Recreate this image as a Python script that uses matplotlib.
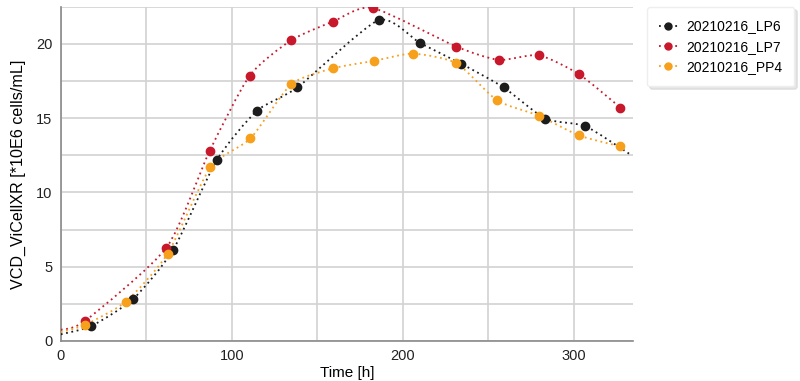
import matplotlib.pyplot as plt
import numpy as np
from matplotlib.path import Path
from matplotlib.patches import PathPatch
from matplotlib.lines import Line2D

plt.rcParams['font.family'] = ['Liberation Sans', 'DejaVu Sans']

# measured points
lp6_t = [17.9, 42.3, 65.7, 91.2, 114.6, 138.4, 185.8, 210.3, 234.3, 258.9, 283.4, 306.8]
lp6_v = [1.01, 2.83, 6.14, 12.18, 15.49, 17.08, 21.6, 20.05, 18.66, 17.08, 14.97, 14.46]
lp7_t = [14.4, 61.8, 87.1, 110.5, 134.7, 159.2, 182.3, 231.4, 256.1, 279.5, 303.1, 327.3]
lp7_v = [1.37, 6.29, 12.81, 17.87, 20.25, 21.51, 22.43, 19.82, 18.93, 19.24, 17.96, 15.71]
pp4_t = [14.0, 38.0, 62.4, 87.5, 110.9, 134.7, 159.2, 183.0, 206.0, 231.4, 255.2, 279.5, 303.1, 327.3]
pp4_v = [1.08, 2.65, 5.87, 11.69, 13.64, 17.28, 18.36, 18.86, 19.35, 18.7, 16.2, 15.17, 13.84, 13.1]

# where the dotted curves start / end outside the measured points
lp6_start, lp6_end = (0, 0.45), (332.5, 12.6)
lp7_start, lp7_end = (0, 0.75), None
pp4_start, pp4_end = (0, 0.6), None

names = ['20210216_LP6', '20210216_LP7', '20210216_PP4']
colors = ['#1c1c1c', '#c8182b', '#f7a01c']


def smooth_path(x, y, k=9.0):
    # catmull-rom style bezier through the points (loose tension)
    p = np.column_stack([x, y])
    verts = [p[0]]
    codes = [Path.MOVETO]
    n = len(p)
    for i in range(n - 1):
        p0 = p[i - 1] if i > 0 else p[i]
        p3 = p[i + 2] if i + 2 < n else p[i + 1]
        c1 = p[i] + (p[i + 1] - p0) / k
        c2 = p[i + 1] - (p3 - p[i]) / k
        verts += [c1, c2, p[i + 1]]
        codes += [Path.CURVE4] * 3
    return Path(verts, codes)


fig = plt.figure(figsize=(8, 3.81), dpi=100)
ax = fig.add_axes([0.076, 0.105, 0.715, 0.877])

series = [(lp6_t, lp6_v, lp6_start, lp6_end),
          (lp7_t, lp7_v, lp7_start, lp7_end),
          (pp4_t, pp4_v, pp4_start, pp4_end)]

handles = []
for (t, v, s, e), c, name in zip(series, colors, names):
    xs = [s[0]] + list(t)
    ys = [s[1]] + list(v)
    if e is not None:
        xs.append(e[0])
        ys.append(e[1])
    patch = PathPatch(smooth_path(xs, ys), fill=False, edgecolor=c, lw=1.3,
                      linestyle=(0, (1, 2)), zorder=3)
    ax.add_patch(patch)
    ax.plot(t, v, 'o', color=c, ms=6, zorder=4)
    handles.append(Line2D([], [], color=c, lw=1.3, linestyle=(0, (1, 2)),
                          marker='o', ms=5))

ax.set_xlim(0, 334.5)
ax.set_ylim(0, 22.5)
ax.set_xticks(np.arange(0, 334, 50))
ax.set_xticklabels(['0', '', '100', '', '200', '', '300'])
ax.set_yticks(np.arange(0, 22.6, 2.5))
ax.set_yticklabels(['0', '', '5', '', '10', '', '15', '', '20', ''])
ax.grid(True, color='#d2d2d2', lw=1.2)
ax.set_axisbelow(True)
ax.tick_params(length=0, labelsize=10.5, colors='#222222', pad=6)
for sp in ['top', 'right']:
    ax.spines[sp].set_visible(False)
for sp in ['left', 'bottom']:
    ax.spines[sp].set_color('#8a8a8a')
    ax.spines[sp].set_linewidth(1.2)

ax.set_xlabel('Time [h]', fontsize=11, labelpad=2)
ax.set_ylabel('VCD_ViCellXR [*10E6 cells/mL]', fontsize=11.6, labelpad=7)

leg = fig.legend(handles, names, loc='upper left', bbox_to_anchor=(0.800, 1.0),
                 frameon=True, fancybox=True, fontsize=10, handlelength=1.3,
                 handletextpad=0.6, borderpad=0.9, labelspacing=0.45,
                 edgecolor='#eeeeee',
                 shadow={'color': '#bbbbbb', 'alpha': 0.35, 'ox': 2, 'oy': -2})

fig.savefig('out.png', dpi=100)
